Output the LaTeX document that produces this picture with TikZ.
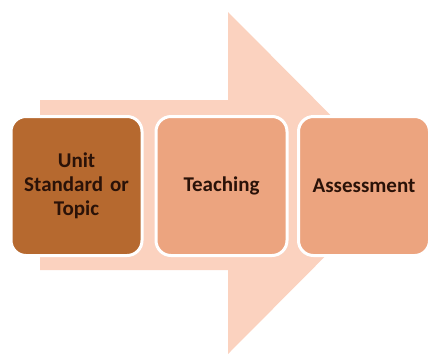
\documentclass[tikz,border=0pt]{standalone}
\usepackage{fontspec}
\setmainfont{Carlito}
\definecolor{arrowfill}{HTML}{FBD2BF}
\definecolor{darkstep}{HTML}{B6692F}
\definecolor{lightstep}{HTML}{ECA47F}
\definecolor{steptext}{HTML}{2A1208}
\tikzset{
  stepbox/.style={rectangle, rounded corners=15pt, draw=white, line width=3pt,
    minimum width=131pt, minimum height=139pt, text width=124pt, align=center,
    font=\bfseries\fontsize{21}{24}\selectfont, text=steptext},
}
\begin{document}
\begin{tikzpicture}[x=1pt,y=-1pt]
\useasboundingbox (0,0) rectangle (430,354);
% big arrow behind
\fill[arrowfill] (40,100) -- (228,100) -- (228,12) -- (398,183) -- (228,354)
  -- (228,270) -- (40,270) -- cycle;
\node[stepbox, fill=darkstep] (unit) at (76.5,186) {Unit\\Standard or\\Topic};
\node[stepbox, fill=lightstep] (teach) at (221.5,186) {Teaching};
\node[stepbox, fill=lightstep] (assess) at (364,186) {Assessment};
\end{tikzpicture}
\end{document}
